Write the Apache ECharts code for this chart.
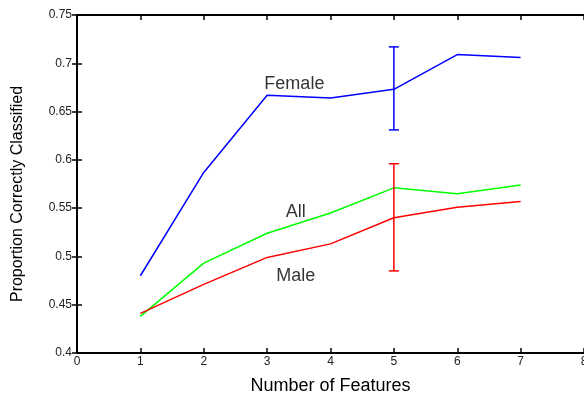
<!DOCTYPE html>
<html><head><meta charset="utf-8">
<script src="https://cdn.jsdelivr.net/npm/echarts@6/dist/echarts.min.js"></script>
<style>html,body{margin:0;padding:0;background:#fff}#c{width:584px;height:396px}</style>
</head><body><div id="c"></div>
<script>
var features = [1, 2, 3, 4, 5, 6, 7];
var female = [0.480, 0.587, 0.667, 0.664, 0.673, 0.709, 0.706];
var all = [0.438, 0.493, 0.524, 0.545, 0.571, 0.565, 0.574];
var male = [0.441, 0.471, 0.499, 0.513, 0.540, 0.551, 0.557];
// error bars: [x, low, high]
var femaleErr = [[5, 0.631, 0.717]];
var maleErr = [[5, 0.485, 0.596]];
var labels = [["Female", 3.43, 0.679], ["All", 3.45, 0.546], ["Male", 3.45, 0.480]];

var FONT = 'Liberation Sans, Arial, sans-serif';
function pairs(ys){ return features.map(function(x,i){ return [x, ys[i]]; }); }
function errSeries(data, color){
  return {
    type: 'custom', data: data, z: 3,
    renderItem: function(params, api){
      var x = api.value(0);
      var lo = api.coord([x, api.value(1)]);
      var hi = api.coord([x, api.value(2)]);
      var w = 5;
      var st = {stroke: color, lineWidth: 1.5};
      return {type: 'group', children: [
        {type: 'line', shape: {x1: lo[0], y1: lo[1], x2: hi[0], y2: hi[1]}, style: st},
        {type: 'line', shape: {x1: lo[0]-w, y1: lo[1], x2: lo[0]+w, y2: lo[1]}, style: st},
        {type: 'line', shape: {x1: hi[0]-w, y1: hi[1], x2: hi[0]+w, y2: hi[1]}, style: st}
      ]};
    }
  };
}
function lineSeries(ys, color){
  return {type: 'line', data: pairs(ys), symbol: 'none', lineStyle: {color: color, width: 1.5}, itemStyle:{color:color}, z: 2, animation: false};
}
var axisCommon = {
  axisLine: {show: true, lineStyle: {color: '#000', width: 2}},
  axisTick: {show: true, inside: true, length: 5, lineStyle: {color: '#000', width: 1.5}},
  splitLine: {show: false}
};
var chart = echarts.init(document.getElementById('c'), null, {renderer: 'canvas'});
chart.setOption({
  animation: false,
  backgroundColor: '#fff',
  grid: {left: 77, right: 0, top: 15, bottom: 43, containLabel: false, outerBoundsMode: 'none'},
  xAxis: [
    Object.assign({type: 'value', min: 0, max: 8, interval: 1, position: 'bottom',
      name: 'Number of Features', nameLocation: 'middle', nameGap: 24,
      nameTextStyle: {fontFamily: FONT, fontSize: 18, color: '#000'},
      axisLabel: {fontFamily: FONT, fontSize: 12, color: '#222', margin: 3}}, axisCommon),
    Object.assign({type: 'value', min: 0, max: 8, interval: 1, position: 'top',
      axisLabel: {show: false}}, axisCommon)
  ],
  yAxis: [
    Object.assign({type: 'value', min: 0.4, max: 0.75, interval: 0.05, position: 'left',
      name: 'Proportion Correctly Classified', nameLocation: 'middle', nameGap: 51,
      nameTextStyle: {fontFamily: FONT, fontSize: 16, color: '#000', padding: [0, 20, 0, 0]},
      axisLabel: {fontFamily: FONT, fontSize: 12, color: '#222', margin: 5,
        formatter: function(v){ return String(+v.toFixed(2)); }}}, axisCommon),
    Object.assign({type: 'value', min: 0.4, max: 0.75, interval: 0.05, position: 'right',
      axisLabel: {show: false}}, axisCommon)
  ],
  series: [
    lineSeries(female, '#0000ff'),
    lineSeries(all, '#00ff00'),
    lineSeries(male, '#ff0000'),
    errSeries(femaleErr, '#0000ff'),
    errSeries(maleErr, '#ff0000'),
    {type: 'scatter', symbolSize: 0, data: labels.map(function(l){ return {name: l[0], value: [l[1], l[2]]}; }),
      label: {show: true, position: 'inside', formatter: '{b}', fontFamily: FONT, fontSize: 18, color: '#000'}, silent: true}
  ]
});
</script></body></html>
